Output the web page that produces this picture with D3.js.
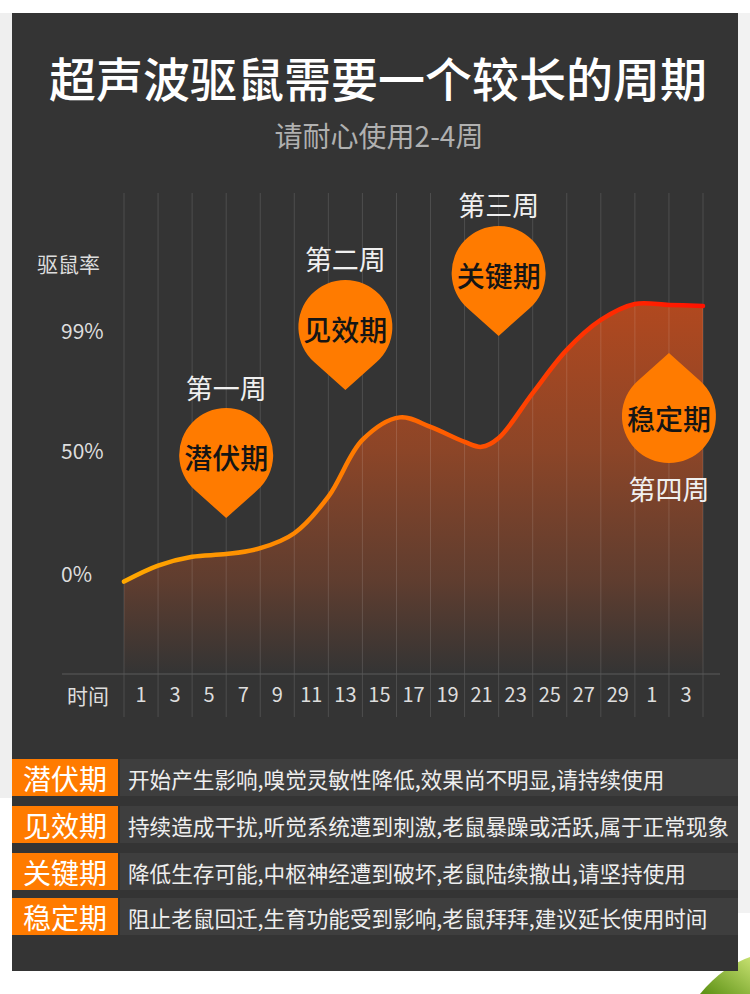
<!DOCTYPE html>
<html>
<head>
<meta charset="utf-8">
<script src="https://cdn.jsdelivr.net/npm/d3@7"></script>
<style>
  body { margin: 0; background: #fff; }
  svg { display: block; font-family: "Noto Sans CJK SC", "Noto Sans", sans-serif; }
</style>
</head>
<body>
<div id="container"></div>
<script>
// chart values
const titleText = "超声波驱鼠需要一个较长的周期";
const subtitleText = "请耐心使用2-4周";
const yLabel = "驱鼠率";
const xLabel = "时间";
const yTickValues = [0, 50, 99];
const yTickLabels = ["0%", "50%", "99%"];
const dayLabels = ["1", "3", "5", "7", "9", "11", "13", "15", "17", "19", "21", "23", "25", "27", "29", "1", "3"];

// curve: position in grid-line units, rate in %
const curvePos = [0, 1, 2, 3, 4, 5, 6, 7, 8.1, 9, 10, 10.5, 11, 12, 13, 14, 15, 16, 17];
const curveRate = [-3.5, 3.0, 6.6, 7.7, 10.1, 16.2, 31.1, 54.2, 63.4, 59.5, 53.4, 51.4, 55.0, 73.3, 90.9, 103.1, 109.6, 109.2, 108.8];

// phases
const phaseNames = ["潜伏期", "见效期", "关键期", "稳定期"];
const weekNames = ["第一周", "第二周", "第三周", "第四周"];
const pinPos = [3, 6.5, 11, 16];
const pinTipRate = [22.4, 74.6, 96.6, 89.6];
const pinPointsUp = [false, false, false, true];
const phaseDesc = [
    "开始产生影响,嗅觉灵敏性降低,效果尚不明显,请持续使用",
    "持续造成干扰,听觉系统遭到刺激,老鼠暴躁或活跃,属于正常现象",
    "降低生存可能,中枢神经遭到破坏,老鼠陆续撤出,请坚持使用",
    "阻止老鼠回迁,生育功能受到影响,老鼠拜拜,建议延长使用时间"
];

function renderChart() {
    const width = 750;
    const height = 994;
    const gridTop = 193;
    const gridBottom = 717;
    const axisY = 674;
    const orange = "#ff7b00";

    const x = d3.scaleLinear().domain([0, 17]).range([124, 703]);
    const xBand = d3.scaleBand().domain(d3.range(dayLabels.length)).range([124, 703]);
    const y = d3.scaleLinear().domain([0, 99]).range([573, 330]);

    const svg = d3.create("svg")
        .attr("width", width)
        .attr("height", height)
        .attr("viewBox", [0, 0, width, height]);

    const defs = svg.append("defs");

    // stroke gradient, yellow-orange to red
    const lg = defs.append("linearGradient")
        .attr("id", "lineGrad")
        .attr("gradientUnits", "userSpaceOnUse")
        .attr("x1", x(0)).attr("x2", x(17)).attr("y1", 0).attr("y2", 0);
    lg.append("stop").attr("offset", 0).attr("stop-color", "#ffa800");
    lg.append("stop").attr("offset", 0.4).attr("stop-color", "#ff7a00");
    lg.append("stop").attr("offset", 0.7).attr("stop-color", "#ff4000");
    lg.append("stop").attr("offset", 1).attr("stop-color", "#ff1200");

    // area gradient fades down to the axis
    const ag = defs.append("linearGradient")
        .attr("id", "areaGrad")
        .attr("gradientUnits", "userSpaceOnUse")
        .attr("x1", 0).attr("x2", 0).attr("y1", 300).attr("y2", axisY);
    ag.append("stop").attr("offset", 0).attr("stop-color", "#ff5512").attr("stop-opacity", 0.62);
    ag.append("stop").attr("offset", 0.4).attr("stop-color", "#f85a18").attr("stop-opacity", 0.45);
    ag.append("stop").attr("offset", 0.75).attr("stop-color", "#e85a20").attr("stop-opacity", 0.24);
    ag.append("stop").attr("offset", 1).attr("stop-color", "#e05a20").attr("stop-opacity", 0.0);

    const leafGrad = defs.append("linearGradient")
        .attr("id", "leafGrad")
        .attr("x1", 0).attr("x2", 1).attr("y1", 1).attr("y2", 0);
    leafGrad.append("stop").attr("offset", 0).attr("stop-color", "#5a8f12");
    leafGrad.append("stop").attr("offset", 1).attr("stop-color", "#c6e070");

    // page backdrop
    svg.append("rect").attr("x", 0).attr("y", 13).attr("width", 12).attr("height", 785).attr("fill", "#efefef");
    svg.append("rect").attr("x", 738).attr("y", 13).attr("width", 12).attr("height", 900).attr("fill", "#f2f2f2");
    svg.append("path")
        .attr("d", "M700,994 C715,975 735,962 750,957 L750,994 Z")
        .attr("fill", "url(#leafGrad)");

    // dark panel
    svg.append("rect")
        .attr("x", 12).attr("y", 13)
        .attr("width", 726).attr("height", 958)
        .attr("fill", "#343434");

    // title
    svg.append("text")
        .attr("x", 378).attr("y", 76)
        .attr("text-anchor", "middle")
        .attr("dominant-baseline", "central")
        .attr("fill", "#ffffff")
        .attr("font-size", 47)
        .attr("font-weight", 500)
        .text(titleText);

    svg.append("text")
        .attr("x", 379).attr("y", 135)
        .attr("text-anchor", "middle")
        .attr("dominant-baseline", "central")
        .attr("fill", "#b0b0b0")
        .attr("font-size", 28)
        .text(subtitleText);

    // area + line
    const pts = curvePos.map((p, i) => [p, curveRate[i]]);

    const area = d3.area()
        .x(d => x(d[0]))
        .y0(axisY)
        .y1(d => y(d[1]))
        .curve(d3.curveCatmullRom.alpha(0.5));

    const line = d3.line()
        .x(d => x(d[0]))
        .y(d => y(d[1]))
        .curve(d3.curveCatmullRom.alpha(0.5));

    svg.append("path")
        .attr("fill", "url(#areaGrad)")
        .attr("d", area(pts));

    // vertical grid lines
    svg.append("g")
        .selectAll("line")
        .data(d3.range(18))
        .join("line")
        .attr("x1", d => x(d)).attr("x2", d => x(d))
        .attr("y1", gridTop).attr("y2", gridBottom)
        .attr("stroke", "#ffffff")
        .attr("stroke-opacity", 0.13)
        .attr("stroke-width", 1);

    // baseline
    svg.append("line")
        .attr("x1", 62).attr("x2", 720)
        .attr("y1", axisY).attr("y2", axisY)
        .attr("stroke", "#5a5a5a")
        .attr("stroke-width", 1.2);

    svg.append("path")
        .attr("fill", "none")
        .attr("stroke", "url(#lineGrad)")
        .attr("stroke-width", 4.5)
        .attr("stroke-linecap", "round")
        .attr("d", line(pts));

    // x-axis labels
    svg.append("g")
        .attr("transform", `translate(0,${axisY})`)
        .call(d3.axisBottom(xBand).tickSize(0).tickPadding(14).tickFormat(i => dayLabels[i]))
        .call(g => g.select(".domain").remove())
        .call(g => g.selectAll("text")
            .attr("fill", "#dddddd")
            .attr("font-size", 20)
            .attr("font-family", "\"Noto Sans CJK SC\", sans-serif"));

    svg.append("text")
        .attr("x", 88).attr("y", 695)
        .attr("text-anchor", "middle")
        .attr("dominant-baseline", "central")
        .attr("fill", "#dddddd")
        .attr("font-size", 21)
        .text(xLabel);

    // y labels
    svg.append("g")
        .selectAll("text")
        .data(yTickValues)
        .join("text")
        .attr("x", 61)
        .attr("y", d => y(d))
        .attr("dominant-baseline", "central")
        .attr("fill", "#dddddd")
        .attr("font-size", 21)
        .text((d, i) => yTickLabels[i]);

    svg.append("text")
        .attr("x", 37).attr("y", 263)
        .attr("dominant-baseline", "central")
        .attr("fill", "#dddddd")
        .attr("font-size", 21)
        .text(yLabel);

    // phase pins
    const r = 47, tipDist = 63;
    const a = Math.acos(r / tipDist);
    const pins = svg.append("g");
    phaseNames.forEach((name, i) => {
        const tx = x(pinPos[i]);
        const ty = y(pinTipRate[i]);
        const dir = pinPointsUp[i] ? 1 : -1; // center offset from tip
        const cx = tx, cy = ty + dir * tipDist;
        // angle pointing from center to tip
        const base = pinPointsUp[i] ? -Math.PI / 2 : Math.PI / 2;
        const p1 = [cx + r * Math.cos(base + a), cy + r * Math.sin(base + a)];
        const path = d3.path();
        path.moveTo(tx, ty);
        path.lineTo(p1[0], p1[1]);
        path.arc(cx, cy, r, base + a, base - a + 2 * Math.PI);
        path.closePath();
        pins.append("path").attr("d", path.toString()).attr("fill", orange);

        pins.append("text")
            .attr("x", cx).attr("y", cy + 2)
            .attr("text-anchor", "middle")
            .attr("dominant-baseline", "central")
            .attr("fill", "#151515")
            .attr("font-size", 28)
            .attr("font-weight", 500)
            .text(name);

        const wy = pinPointsUp[i] ? cy + r + 25 : cy - r - 21;
        pins.append("text")
            .attr("x", cx).attr("y", wy)
            .attr("text-anchor", "middle")
            .attr("dominant-baseline", "central")
            .attr("fill", "#f0f0f0")
            .attr("font-size", 27)
            .text(weekNames[i]);
    });

    // legend table
    const rowTop = [759, 806, 853, 898];
    const rows = svg.append("g");
    phaseNames.forEach((name, i) => {
        const ry = rowTop[i];
        rows.append("rect")
            .attr("x", 120).attr("y", ry)
            .attr("width", 618).attr("height", 37)
            .attr("fill", "#3e3e3e");
        rows.append("rect")
            .attr("x", 12).attr("y", ry)
            .attr("width", 106).attr("height", 37)
            .attr("fill", orange);
        rows.append("text")
            .attr("x", 65).attr("y", ry + 19)
            .attr("text-anchor", "middle")
            .attr("dominant-baseline", "central")
            .attr("fill", "#ffffff")
            .attr("font-size", 28)
            .text(name);
        rows.append("text")
            .attr("x", 128).attr("y", ry + 19)
            .attr("dominant-baseline", "central")
            .attr("fill", "#eeeeee")
            .attr("font-size", 21.6)
            .text(phaseDesc[i]);
    });

    document.getElementById("container").append(svg.node());
}

renderChart();
</script>
</body>
</html>
